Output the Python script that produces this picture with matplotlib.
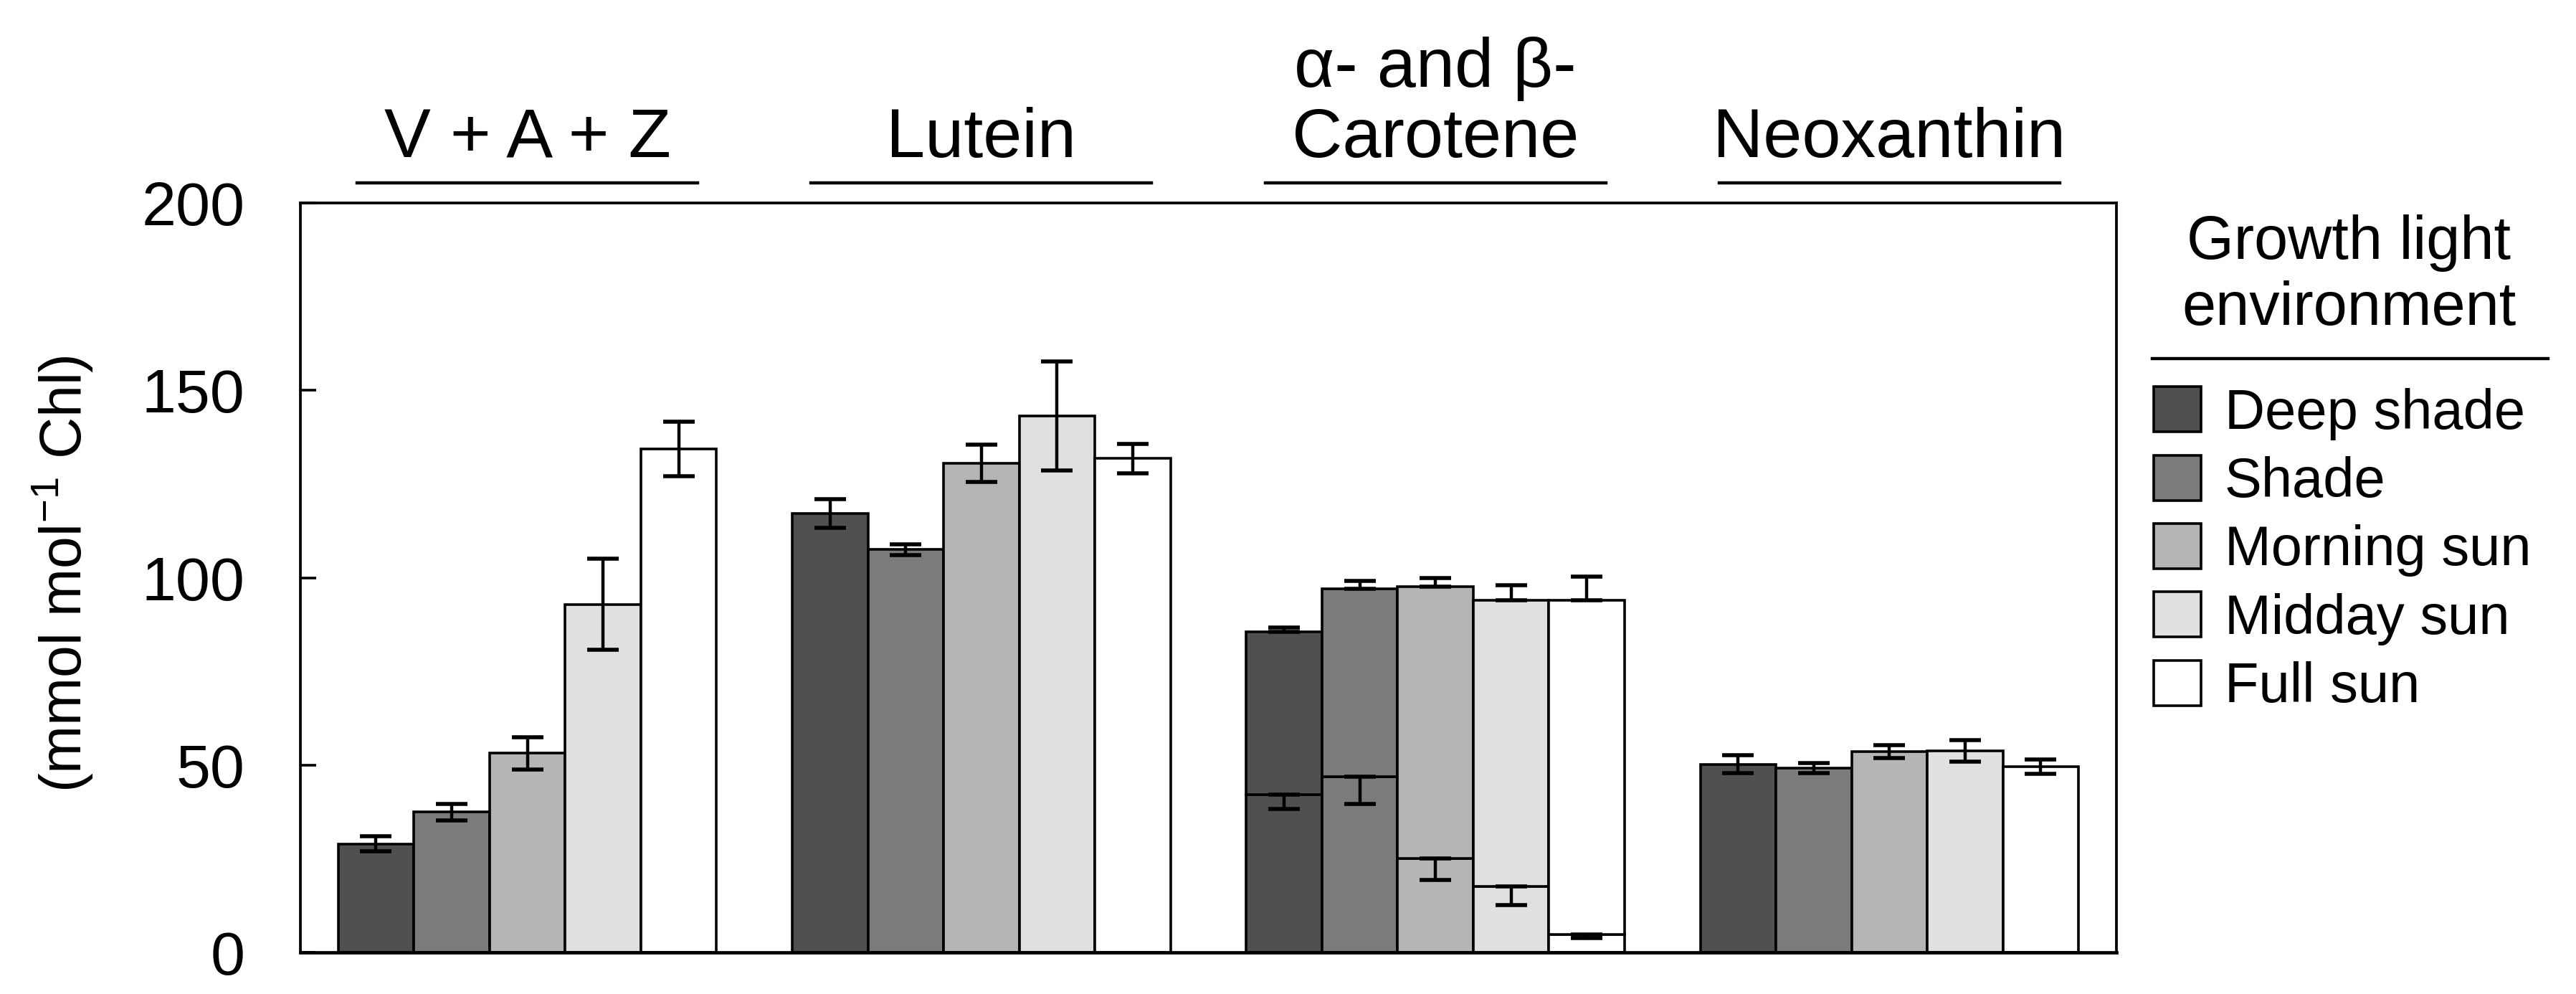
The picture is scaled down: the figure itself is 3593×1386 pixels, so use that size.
import matplotlib.pyplot as plt
import matplotlib.transforms as mtransforms
from matplotlib.lines import Line2D
from matplotlib.patches import Patch
import numpy as np

plt.rcParams["font.family"] = ["Liberation Sans", "DejaVu Sans"]
plt.rcParams["mathtext.fontset"] = "custom"
plt.rcParams["mathtext.rm"] = "Liberation Sans"
plt.rcParams["mathtext.default"] = "regular"

pigments = ["V + A + Z", "Lutein", "α- and β-\nCarotene", "Neoxanthin"]
environments = ["Deep shade", "Shade", "Morning sun", "Midday sun", "Full sun"]
colors = ["#505050", "#7b7b7b", "#b5b5b5", "#e0e0e0", "#ffffff"]

# mmol mol-1 Chl, one value per growth light environment
vaz = [29.0, 37.5, 53.2, 92.9, 134.4]
vaz_err = [2.0, 2.2, 4.3, 12.2, 7.3]
lutein = [117.1, 107.5, 130.5, 143.2, 131.8]
lutein_err = [3.8, 1.4, 5.0, 14.6, 3.9]
alpha_car = [42.2, 46.9, 25.0, 17.7, 4.8]
alpha_err = [4.0, 7.2, 5.7, 5.1, 1.0]
beta_car = [43.3, 50.1, 72.6, 76.3, 89.2]
total_car_err = [1.2, 2.1, 2.3, 4.0, 6.3]
neox = [50.2, 49.2, 53.6, 53.8, 49.5]
neox_err = [2.4, 1.4, 1.8, 2.8, 1.9]

fig = plt.figure(figsize=(35.93, 13.86), dpi=100)
ax = fig.add_axes([0.1166, 0.0418, 0.7050, 0.7540])

centers = np.arange(len(pigments)) * 6.0
err_kw = dict(ecolor="black", elinewidth=3.2, capthick=4.0, capsize=15.5)
bar_kw = dict(width=1.0, edgecolor="black", linewidth=2.6)

for i, env in enumerate(environments):
    x = centers + (i - 2)
    # single bars: V+A+Z, lutein, neoxanthin
    ax.bar(x[[0, 1, 3]], [vaz[i], lutein[i], neox[i]], color=colors[i],
           yerr=[vaz_err[i], lutein_err[i], neox_err[i]], error_kw=err_kw, **bar_kw)
    # stacked alpha + beta carotene
    ax.bar(x[2], alpha_car[i], color=colors[i],
           yerr=[[alpha_err[i]], [0]], error_kw=err_kw, **bar_kw)
    ax.bar(x[2], beta_car[i], bottom=alpha_car[i], color=colors[i],
           yerr=[[0], [total_car_err[i]]], error_kw=err_kw, **bar_kw)

ax.set_xlim(centers[0] - 3, centers[-1] + 3)
ax.set_ylim(0, 200)
ax.set_yticks([0, 50, 100, 150, 200])
ax.set_xticks([])
ax.tick_params(axis="y", direction="in", length=16, width=2.6, pad=56, labelsize=62)
for side in ["left", "right", "top"]:
    ax.spines[side].set_linewidth(2.7)
ax.spines["bottom"].set_linewidth(3.4)

ax.set_ylabel("(mmol mol$^{-1}$ Chl)", fontsize=58)
ax.yaxis.set_label_coords(-0.1133, 0.505)

# pigment labels with underlines above the plot
trans = mtransforms.blended_transform_factory(ax.transData, ax.transAxes)
for c, name in zip(centers, pigments):
    ax.text(c, 1.061, name, transform=trans, ha="center", va="baseline",
            fontsize=70, linespacing=1.12)
    ax.plot([c - 2.25, c + 2.25], [1.027, 1.027], transform=trans,
            color="black", lw=3.2, clip_on=False)

# legend
fig.text(0.9118, 0.6732, "Growth light\nenvironment", ha="center", va="baseline",
         fontsize=61, linespacing=1.2)
fig.add_artist(Line2D([0.8355, 0.9891], [0.6392, 0.6392], color="black", lw=3.2))
handles = [Patch(facecolor=c, edgecolor="black", linewidth=2.6) for c in colors]
fig.legend(handles, environments, loc="upper left", bbox_to_anchor=(0.836, 0.611),
           frameon=False, fontsize=56, handlelength=0.85, handleheight=0.87,
           handletextpad=0.42, labelspacing=0.27, borderpad=0, borderaxespad=0)

fig.savefig("out.png", dpi=100)
